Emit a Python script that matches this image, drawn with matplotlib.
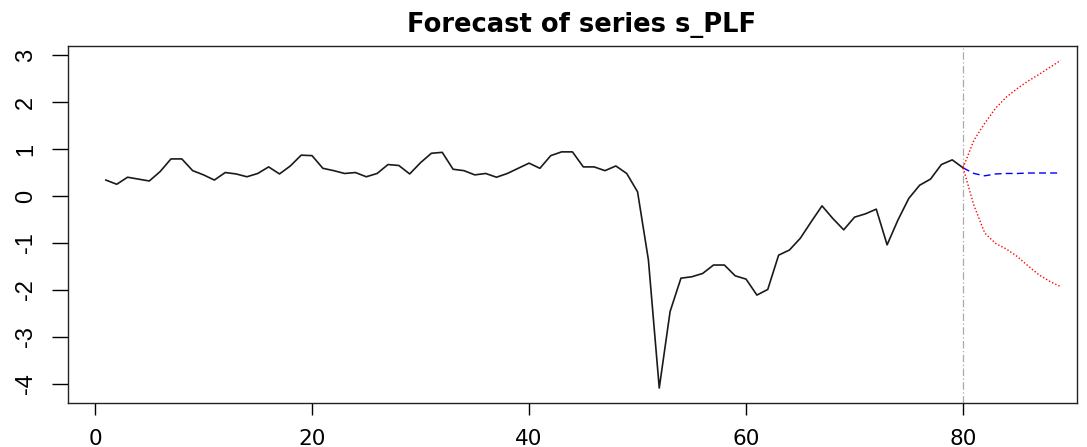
import matplotlib
matplotlib.use("Agg")
import matplotlib.pyplot as plt

# Observed series s_PLF (t = 1..80)
t_obs = list(range(1, 81))
s_plf = [0.34, 0.25, 0.40, 0.36, 0.32, 0.52, 0.79, 0.79, 0.54, 0.45,
         0.34, 0.50, 0.47, 0.41, 0.48, 0.62, 0.47, 0.64, 0.87, 0.86,
         0.59, 0.54, 0.48, 0.50, 0.41, 0.48, 0.67, 0.65, 0.47, 0.71,
         0.91, 0.93, 0.57, 0.54, 0.45, 0.48, 0.40, 0.48, 0.59, 0.70,
         0.59, 0.86, 0.94, 0.94, 0.62, 0.62, 0.54, 0.64, 0.48, 0.09,
         -1.36, -4.09, -2.46, -1.75, -1.72, -1.65, -1.47, -1.47, -1.70, -1.77,
         -2.11, -1.99, -1.26, -1.15, -0.90, -0.55, -0.21, -0.48, -0.72, -0.45,
         -0.38, -0.28, -1.04, -0.51, -0.05, 0.23, 0.36, 0.67, 0.77, 0.60]

# Forecast (t = 80..89), starting from the last observation
t_fc = list(range(80, 90))
fc_mean = [0.60, 0.48, 0.43, 0.47, 0.48, 0.48, 0.49, 0.49, 0.49, 0.49]
fc_upper = [0.60, 1.19, 1.55, 1.87, 2.11, 2.29, 2.45, 2.59, 2.74, 2.89]
fc_lower = [0.60, -0.20, -0.79, -1.01, -1.13, -1.29, -1.49, -1.68, -1.82, -1.93]

x_ticks = [0, 20, 40, 60, 80]
y_ticks = [-4, -3, -2, -1, 0, 1, 2, 3]
split_t = 80
title = "Forecast of series s_PLF"

plt.rcParams['font.family'] = ['DejaVu Sans']

fig = plt.figure(figsize=(10.87, 4.47), dpi=100)
ax = fig.add_axes([68/1087, 1 - 403.3/447, (1077 - 68)/1087, (403.3 - 46)/447])

ax.plot(t_obs, s_plf, color='#1a1a1a', lw=1.2)
ax.plot(t_fc, fc_mean, color='blue', lw=1.0, ls=(0, (5, 3)))
ax.plot(t_fc, fc_upper, color='red', lw=1.0, ls=(0, (1, 1.5)))
ax.plot(t_fc, fc_lower, color='red', lw=1.0, ls=(0, (1, 1.5)))
ax.axvline(split_t, color='#aaaaaa', lw=0.9, ls=(0, (6, 2, 1, 2)), zorder=0)

ax.set_xlim(-2.49, 90.5)
ax.set_ylim(-4.415, 3.195)
ax.set_xticks(x_ticks)
ax.set_yticks(y_ticks)
ax.set_yticklabels([str(v) for v in y_ticks], rotation=90, va='center',
                   family=['Liberation Sans', 'DejaVu Sans'])
ax.tick_params(axis='y', length=11.5, width=1.0, pad=11, labelsize=17)
ax.tick_params(axis='x', length=8.6, width=1.0, pad=10, labelsize=15.5)
for s in ax.spines.values():
    s.set_linewidth(1.0)
    s.set_color('#222222')

fig.text(582/1087, 1 - 32/447, title, ha='center', va='baseline',
         fontsize=18.5, fontweight='bold')

fig.savefig("out.png", dpi=100)
